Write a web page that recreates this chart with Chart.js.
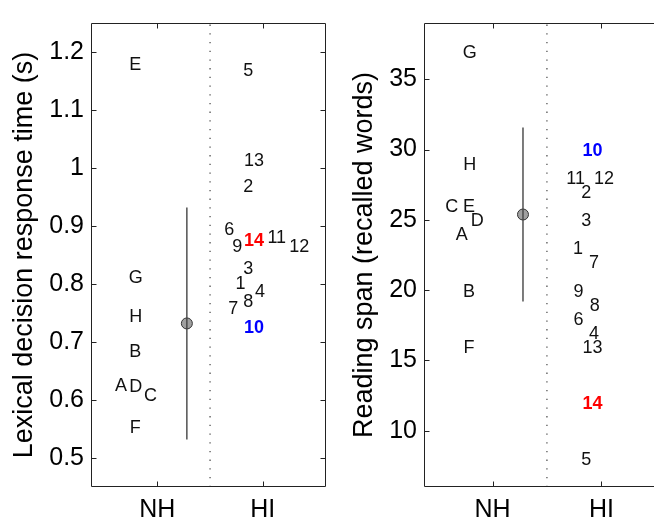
<!DOCTYPE html>
<html>
<head>
<meta charset="utf-8">
<script src="https://cdn.jsdelivr.net/npm/chart.js@4.4.0/dist/chart.umd.min.js"></script>
<style>
  html, body { margin: 0; padding: 0; background: #fff; overflow: hidden; }
  #wrap { position: relative; width: 654px; height: 520px; overflow: hidden; }
  canvas { position: absolute; top: 0; }
  #rtChart { left: 0; }
  #spanChart { left: 340px; }
</style>
</head>
<body>
<div id="wrap">
  <canvas id="rtChart" width="340" height="520"></canvas>
  <canvas id="spanChart" width="340" height="520"></canvas>
</div>
<script>
// groups on the x axis
const groupTicks = [1, 2];
const groupLabels = ['NH', 'HI'];

// listener ids: normal hearing (letters), hearing impaired (numbers)
const nhIds = ['A', 'B', 'C', 'D', 'E', 'F', 'G', 'H'];
const hiIds = ['1', '2', '3', '4', '5', '6', '7', '8', '9', '10', '11', '12', '13', '14'];

// lexical decision response time (s), x = jittered group position
const nhRT  = [0.627, 0.686, 0.610, 0.625, 1.180, 0.555, 0.812, 0.746];
const nhRTx = [0.655, 0.79, 0.935, 0.795, 0.79, 0.79, 0.795, 0.795];
const hiRT  = [0.802, 0.970, 0.829, 0.788, 1.170, 0.895, 0.760, 0.772, 0.867, 0.726, 0.881, 0.867, 1.014, 0.877];
const hiRTx = [1.79, 1.863, 1.863, 1.974, 1.863, 1.683, 1.721, 1.863, 1.759, 1.917, 2.133, 2.347, 1.917, 1.917];
const rtMean = 0.732;
const rtSD = 0.200;
const rtTicks = [0.5, 0.6, 0.7, 0.8, 0.9, 1, 1.1, 1.2];
const rtTickLabels = ['0.5', '0.6', '0.7', '0.8', '0.9', '1', '1.1', '1.2'];

// reading span (recalled words)
const nhSpan  = [24, 20, 26, 25, 26, 16, 37, 29];
const nhSpanX = [0.717, 0.785, 0.625, 0.861, 0.785, 0.785, 0.791, 0.791];
const hiSpan  = [23, 27, 25, 17, 8, 18, 22, 19, 20, 30, 28, 28, 16, 12];
const hiSpanX = [1.785, 1.862, 1.862, 1.933, 1.862, 1.791, 1.933, 1.939, 1.791, 1.918, 1.764, 2.025, 1.918, 1.918];
const spanMean = 25.38;
const spanSD = 6.19;
const spanTicks = [10, 15, 20, 25, 30, 35];
const spanTickLabels = ['10', '15', '20', '25', '30', '35'];

const meanX = 1.28;   // where the NH mean +- sd is drawn
const splitX = 1.5;   // dotted line between groups

const FONT = "'Liberation Sans', Arial, Helvetica, sans-serif";
Chart.defaults.font.family = FONT;
Chart.defaults.color = '#000';

const highlight = { '14': '#ff0000', '10': '#0000ff' };

// draws the listener ids at their data points
const idLabels = {
  id: 'idLabels',
  afterDatasetsDraw(chart) {
    const ctx = chart.ctx;
    chart.data.datasets.forEach((ds, i) => {
      if (!ds.ids) return;
      const meta = chart.getDatasetMeta(i);
      meta.data.forEach((pt, j) => {
        const id = ds.ids[j];
        const col = highlight[id];
        ctx.save();
        ctx.font = (col ? 'bold ' : '') + '18px ' + FONT;
        ctx.fillStyle = col || '#111';
        ctx.textAlign = 'center';
        ctx.textBaseline = 'alphabetic';
        ctx.fillText(id, pt.x, pt.y + 18 * 0.358);
        ctx.restore();
      });
    });
  }
};

// matlab style box with inward ticks
const boxFrame = {
  id: 'boxFrame',
  afterDraw(chart) {
    const { ctx, chartArea: a, scales } = chart;
    const L = Math.round(a.left) - 0.5, R = Math.round(a.right) - 0.5;
    const T = Math.round(a.top) + 0.5, B = Math.round(a.bottom) - 0.5;
    ctx.save();
    ctx.strokeStyle = '#222';
    ctx.lineWidth = 1;
    ctx.beginPath();
    ctx.rect(L, T, R - L, B - T);
    scales.y.ticks.forEach(t => {
      const py = Math.round(scales.y.getPixelForValue(t.value)) + 0.5;
      ctx.moveTo(L, py); ctx.lineTo(L + 5, py);
      ctx.moveTo(R, py); ctx.lineTo(R - 5, py);
    });
    scales.x.ticks.forEach(t => {
      const px = Math.round(scales.x.getPixelForValue(t.value)) + 0.5;
      ctx.moveTo(px, B); ctx.lineTo(px, B - 5);
      ctx.moveTo(px, T); ctx.lineTo(px, T + 5);
    });
    ctx.stroke();
    ctx.restore();
  }
};

function makePanel(canvasId, p) {
  return new Chart(document.getElementById(canvasId), {
    type: 'scatter',
    data: {
      datasets: [
        {
          data: [{ x: splitX, y: p.yMin }, { x: splitX, y: p.yMax }],
          showLine: true, borderColor: '#444', borderWidth: 1.2,
          borderDash: [1.3, 7.4], pointRadius: 0
        },
        {
          data: [{ x: meanX, y: p.mean - p.sd }, { x: meanX, y: p.mean + p.sd }],
          showLine: true, borderColor: '#444', borderWidth: 1.4, pointRadius: 0
        },
        {
          data: [{ x: meanX, y: p.mean }],
          pointRadius: 5.5, backgroundColor: '#a0a0a0', borderColor: '#333', borderWidth: 1
        },
        {
          ids: nhIds,
          data: nhIds.map((_, i) => ({ x: p.nhX[i], y: p.nhY[i] })),
          pointRadius: 0
        },
        {
          ids: hiIds,
          data: hiIds.map((_, i) => ({ x: p.hiX[i], y: p.hiY[i] })),
          pointRadius: 0
        }
      ]
    },
    options: {
      responsive: false,
      animation: false,
      devicePixelRatio: 1,
      layout: { padding: { top: 14, right: p.padRight, left: 0, bottom: 0 } },
      plugins: { legend: { display: false }, tooltip: { enabled: false } },
      scales: {
        x: {
          type: 'linear', min: 0.38, max: 2.6,
          grid: { display: false, drawTicks: false },
          border: { display: false },
          afterBuildTicks: s => { s.ticks = groupTicks.map(v => ({ value: v })); },
          afterFit: s => { s.height = 33; },
          ticks: {
            autoSkip: false, maxRotation: 0, padding: 8, font: { size: 25 }, color: '#000',
            callback: (v, i) => groupLabels[i]
          }
        },
        y: {
          type: 'linear', min: p.yMin, max: p.yMax,
          grid: { display: false, drawTicks: false },
          border: { display: false },
          afterBuildTicks: s => { s.ticks = p.ticks.map(v => ({ value: v })); },
          afterFit: s => { s.width = p.axisWidth; },
          ticks: {
            autoSkip: false, padding: 8, font: { size: 25 }, color: '#000',
            callback: (v, i) => p.tickLabels[i]
          },
          title: {
            display: true, text: p.title, color: '#000',
            font: { size: 27 }, padding: { top: 8, bottom: 0 }
          }
        }
      }
    },
    plugins: [boxFrame, idLabels]
  });
}

makePanel('rtChart', {
  yMin: 0.45, yMax: 1.25, mean: rtMean, sd: rtSD,
  nhX: nhRTx, nhY: nhRT, hiX: hiRTx, hiY: hiRT,
  ticks: rtTicks, tickLabels: rtTickLabels,
  title: 'Lexical decision response time (s)',
  axisWidth: 92, padRight: 14
});

makePanel('spanChart', {
  yMin: 6, yMax: 39, mean: spanMean, sd: spanSD,
  nhX: nhSpanX, nhY: nhSpan, hiX: hiSpanX, hiY: hiSpan,
  ticks: spanTicks, tickLabels: spanTickLabels,
  title: 'Reading span (recalled words)',
  axisWidth: 85, padRight: 13.3
});
</script>
</body>
</html>
